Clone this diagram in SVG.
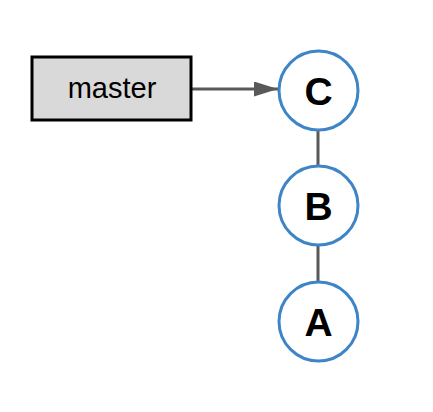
<svg xmlns="http://www.w3.org/2000/svg" width="433" height="412" viewBox="0 0 433 412">
<style>
.commit{fill:#ffffff;stroke:#3d85c6;stroke-width:3}
.lbl{font-family:"Liberation Sans",Arial,sans-serif;font-weight:bold;font-size:39px;fill:#000;text-anchor:middle}
.edge{stroke:#595959;stroke-width:3;fill:none}
</style>
<defs>
<marker id="arr" markerWidth="8" markerHeight="5" refX="8" refY="2.5" orient="auto" markerUnits="strokeWidth">
<path d="M0,0 L8,2.5 L0,5 Z" fill="#595959"/>
</marker>
</defs>
<rect width="433" height="412" fill="#ffffff"/>
<g id="connectors">
<line class="edge" x1="192" y1="89" x2="278" y2="89" marker-end="url(#arr)"/>
<line class="edge" x1="318" y1="129" x2="318" y2="166"/>
<line class="edge" x1="318" y1="245" x2="318" y2="282"/>
</g>
<g id="master">
<rect x="32" y="57" width="159" height="63" fill="#d9d9d9" stroke="#000" stroke-width="3"/>
<text x="112" y="97.5" font-family="Liberation Sans,Arial,sans-serif" font-size="29" text-anchor="middle" fill="#000">master</text>
</g>
<g id="C">
<circle class="commit" cx="318.5" cy="90.5" r="39.5"/>
<text class="lbl" x="318.5" y="104.5">C</text>
</g>
<g id="B">
<circle class="commit" cx="318.5" cy="205.5" r="39.5"/>
<text class="lbl" x="318.5" y="219.5">B</text>
</g>
<g id="A">
<circle class="commit" cx="318.5" cy="321.5" r="39.5"/>
<text class="lbl" x="318.5" y="335.5">A</text>
</g>
</svg>
